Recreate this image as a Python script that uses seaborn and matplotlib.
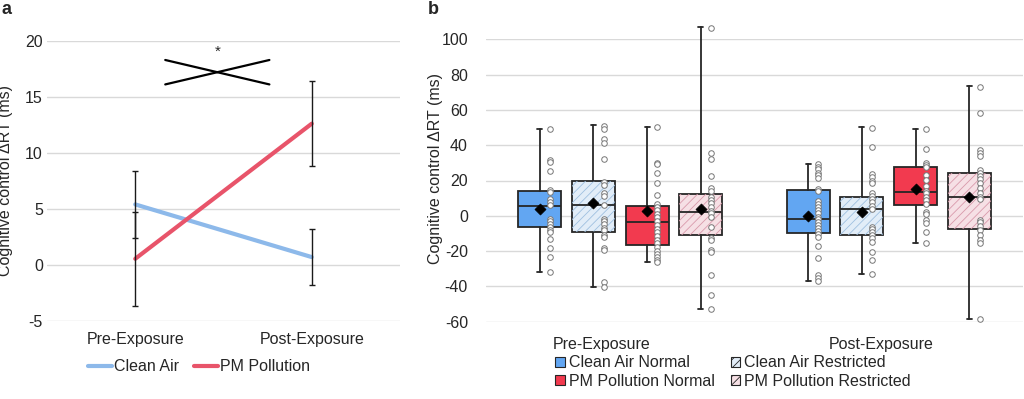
import numpy as np
import pandas as pd
import matplotlib
matplotlib.use("Agg")
import matplotlib.pyplot as plt
import seaborn as sns
from matplotlib.lines import Line2D
from matplotlib.patches import Patch, PathPatch

# ---------------- data ----------------
phases = ["Pre-Exposure", "Post-Exposure"]

# Panel a: means and error bars
line_groups = ["Clean Air", "PM Pollution"]
clean_air_mean = [5.4, 0.7]
clean_air_err = [3.0, 2.5]
pm_mean = [0.55, 12.6]
pm_err = [4.2, 3.8]

# Panel b: box statistics per group (order: CAN, CAR, PMN, PMR)
box_groups = ["Clean Air Normal", "Clean Air Restricted", "PM Pollution Normal", "PM Pollution Restricted"]
pre_whislo = [-32.0, -40.2, -25.9, -53.0]
pre_q1 = [-6.4, -9.3, -16.5, -11.1]
pre_med = [5.7, 6.0, -3.7, 2.0]
pre_q3 = [14.0, 19.5, 5.7, 12.3]
pre_whishi = [49.2, 51.4, 50.1, 106.8]
pre_mean = [4.0, 7.5, 2.7, 3.7]

post_whislo = [-36.9, -33.0, -15.4, -58.3]
post_q1 = [-9.9, -10.9, 5.9, -7.3]
post_med = [-1.8, 3.7, 13.5, 10.7]
post_q3 = [14.6, 10.8, 27.6, 24.2]
post_whishi = [29.2, 50.1, 49.2, 73.5]
post_mean = [0.1, 2.2, 15.2, 10.8]

# individual points
pre_can_pts = [49.2, 31.4, 30.5, 25.6, 14.4, 13.3, 9.5, 8.0, 6.0, -2.0, -3.1, -4.6,
               -6.5, -8.0, -9.3, -13.3, -18.0, -23.3, -32.0]
pre_car_pts = [50.9, 49.2, 43.3, 41.4, 32.2, 19.0, 17.7, 13.0, 11.5, 6.0, -2.0, -3.1,
               -4.6, -6.7, -8.0, -10.8, -11.8, -18.0, -19.5, -37.3, -40.2]
pre_pmn_pts = [50.1, 30.1, 29.2, 24.1, 18.6, 12.0, 6.5, 4.8, 3.3, 1.2, -0.8, -2.9,
               -5.2, -7.3, -9.3, -11.4, -13.7, -15.6, -17.7, -19.8, -21.8, -23.5, -25.0, -26.3]
pre_pmr_pts = [106.6, 35.4, 32.0, 22.5, 15.6, 14.2, 10.8, 8.9, 7.5, 5.2, 2.9, 1.4,
               -0.5, -6.2, -12.8, -13.7, -19.4, -20.7, -33.5, -45.0, -53.0]
post_can_pts = [29.3, 27.8, 26.3, 24.4, 22.9, 21.2, 15.4, 14.2, 8.4, 6.9, 5.0, 3.3, 1.4,
                -0.5, -2.0, -3.7, -5.4, -7.1, -8.8, -10.5, -12.2, -16.9, -23.9, -33.5, -35.4, -36.9]
post_car_pts = [49.6, 39.0, 23.7, 21.8, 19.9, 18.4, 13.1, 11.4, 9.5, 7.6, 5.7, 3.8,
                -6.2, -7.6, -9.3, -10.9, -12.8, -14.7, -20.3, -25.0, -33.1]
post_pmn_pts = [49.2, 38.0, 29.7, 28.6, 27.5, 23.3, 20.3, 17.1, 14.2, 12.7, 10.8, 8.9,
                6.7, 2.3, 0.8, -2.4, -4.2, -9.0, -15.6]
post_pmr_pts = [73.2, 58.1, 37.3, 35.8, 34.1, 26.0, 24.5, 22.6, 20.7, 18.4, 16.0, 13.1,
                10.8, 9.5, -2.4, -3.7, -5.8, -8.0, -10.8, -13.7, -15.2, -58.6]

# ---------------- style ----------------
sns.set_theme(style="white")
plt.rcParams["font.family"] = ["Liberation Sans", "DejaVu Sans"]
plt.rcParams["hatch.linewidth"] = 0.6
plt.rcParams["axes.unicode_minus"] = False

blue_line = "#8db9ea"
red_line = "#e8546a"
box_fill = ["#62a6f2", "#e2edf8", "#f23a4f", "#f6e0e5"]
box_hatch = [None, "#9fc0e0", None, "#d99aab"]
edge = "#262626"
grid_c = "#d9d9d9"
FS = 11.5

fig = plt.figure(figsize=(10.24, 3.99), dpi=100)
W, H = 1024, 399
axA = fig.add_axes([47 / W, 1 - 321 / H, 353 / W, 280.3 / H])
axB = fig.add_axes([486 / W, 1 - 321.7 / H, 537 / W, 282.4 / H])

# ---------------- panel a ----------------
dfa = pd.DataFrame({
    "phase": phases * 2,
    "x": [0, 1, 0, 1],
    "value": clean_air_mean + pm_mean,
    "err": clean_air_err + pm_err,
    "group": [line_groups[0]] * 2 + [line_groups[1]] * 2,
})
sns.lineplot(data=dfa, x="x", y="value", hue="group",
             palette={line_groups[0]: blue_line, line_groups[1]: red_line},
             linewidth=3, ax=axA, legend=False, zorder=3)
axA.errorbar(dfa["x"], dfa["value"], yerr=dfa["err"], fmt="none",
             ecolor="#1a1a1a", elinewidth=1.0, capsize=2.5, capthick=1.0, zorder=4)
axA.set_xlim(-0.5, 1.5)
axA.set_ylim(-5, 20)
axA.set_yticks(np.arange(-5, 21, 5))
axA.set_xticks([0, 1])
axA.set_xticklabels(phases, fontsize=FS)
axA.tick_params(axis="y", labelsize=FS, pad=3, length=0)
axA.tick_params(axis="x", pad=8, length=0)
axA.grid(axis="y", color=grid_c, linewidth=1)
axA.grid(axis="x", visible=False)
for s in axA.spines.values():
    s.set_visible(False)
axA.set_xlabel("")
axA.set_ylabel("Cognitive control ΔRT (ms)", fontsize=FS)
axA.yaxis.set_label_coords(-0.095, 0.5)

# significance cross
axA.plot([0.17, 0.76], [16.1, 18.28], color="black", lw=1.6, zorder=5)
axA.plot([0.17, 0.76], [18.28, 16.1], color="black", lw=1.6, zorder=5)
axA.text(0.465, 18.4, "*", ha="center", va="bottom", fontsize=11)

fig.legend(handles=[Line2D([], [], color=blue_line, lw=3), Line2D([], [], color=red_line, lw=3)],
           labels=line_groups, loc="center", bbox_to_anchor=(199 / W, 1 - 366.7 / H),
           ncol=2, frameon=False, fontsize=FS, handlelength=1.5, handletextpad=0.1,
           columnspacing=1.0, borderaxespad=0, borderpad=0)

# ---------------- panel b ----------------
offsets = [-0.3, -0.1, 0.1, 0.3]
bw = 0.16
stats_all = []
pos_all = []
for p, (lo, q1, med, q3, hi, mn) in enumerate([
        (pre_whislo, pre_q1, pre_med, pre_q3, pre_whishi, pre_mean),
        (post_whislo, post_q1, post_med, post_q3, post_whishi, post_mean)]):
    for g in range(4):
        stats_all.append(dict(whislo=lo[g], q1=q1[g], med=med[g], q3=q3[g], whishi=hi[g],
                              mean=mn[g], fliers=[], label=box_groups[g]))
        pos_all.append(p + offsets[g])

bp = axB.bxp(stats_all, positions=pos_all, widths=bw, patch_artist=True,
             showmeans=False, showfliers=False, capwidths=0.018,
             boxprops=dict(edgecolor=edge, linewidth=1.3),
             medianprops=dict(color=edge, linewidth=1.3),
             whiskerprops=dict(color=edge, linewidth=1.3),
             capprops=dict(color=edge, linewidth=1.3), manage_ticks=False)
for i, box in enumerate(bp["boxes"]):
    g = i % 4
    box.set_facecolor(box_fill[g])
    box.set_zorder(2)
    if box_hatch[g] is not None:
        hp = PathPatch(box.get_path(), facecolor="none", edgecolor=box_hatch[g],
                       hatch="////", lw=0, zorder=2.1)
        axB.add_patch(hp)
for key in ["medians", "whiskers", "caps"]:
    for ln in bp[key]:
        ln.set_zorder(2.5)
        ln.set_clip_on(False)

# points
pts_lists = [pre_can_pts, pre_car_pts, pre_pmn_pts, pre_pmr_pts,
             post_can_pts, post_car_pts, post_pmn_pts, post_pmr_pts]
rows = []
for i, pts in enumerate(pts_lists):
    for v in pts:
        rows.append({"x": pos_all[i] + 0.038, "value": v})
dfp = pd.DataFrame(rows)
sns.scatterplot(data=dfp, x="x", y="value", ax=axB, s=16, color="white",
                edgecolor="#777777", linewidth=0.7, zorder=4, clip_on=False, legend=False)

# means
dfm = pd.DataFrame({"x": pos_all, "value": pre_mean + post_mean})
sns.scatterplot(data=dfm, x="x", y="value", ax=axB, marker="D", s=32, color="black",
                edgecolor="black", zorder=3, legend=False)

axB.set_xlim(-0.5, 1.5)
axB.set_ylim(-60, 100)
axB.set_yticks(np.arange(-60, 101, 20))
axB.set_xticks([-0.07, 0.97])
axB.set_xticklabels(phases, fontsize=FS)
axB.tick_params(axis="y", labelsize=FS, pad=13, length=0)
axB.tick_params(axis="x", pad=11, length=0)
axB.grid(axis="y", color=grid_c, linewidth=1, zorder=0)
axB.grid(axis="x", visible=False)
axB.set_axisbelow(True)
for s in axB.spines.values():
    s.set_visible(False)
axB.set_xlabel("")
axB.set_ylabel("Cognitive control ΔRT (ms)", fontsize=FS)
axB.yaxis.set_label_coords(-0.08, 0.543)

leg_handles = []
for g in range(4):
    leg_handles.append(Patch(facecolor=box_fill[g], edgecolor=edge, linewidth=0.8,
                             hatch="////" if box_hatch[g] else None))
order = [0, 2, 1, 3]
fig.legend(handles=[leg_handles[i] for i in order], labels=[box_groups[i] for i in order],
           loc="center", bbox_to_anchor=(733 / W, 1 - 372 / H), ncol=2, frameon=False,
           fontsize=FS, handlelength=0.6, handleheight=0.6, handletextpad=0.25,
           columnspacing=1.0, labelspacing=0.2, borderaxespad=0, borderpad=0)

fig.text(1 / W, 1 - 9 / H, "a", fontsize=13, fontweight="bold", ha="left", va="center")
fig.text(428 / W, 1 - 9 / H, "b", fontsize=13, fontweight="bold", ha="left", va="center")

fig.savefig("out.png", dpi=100)
